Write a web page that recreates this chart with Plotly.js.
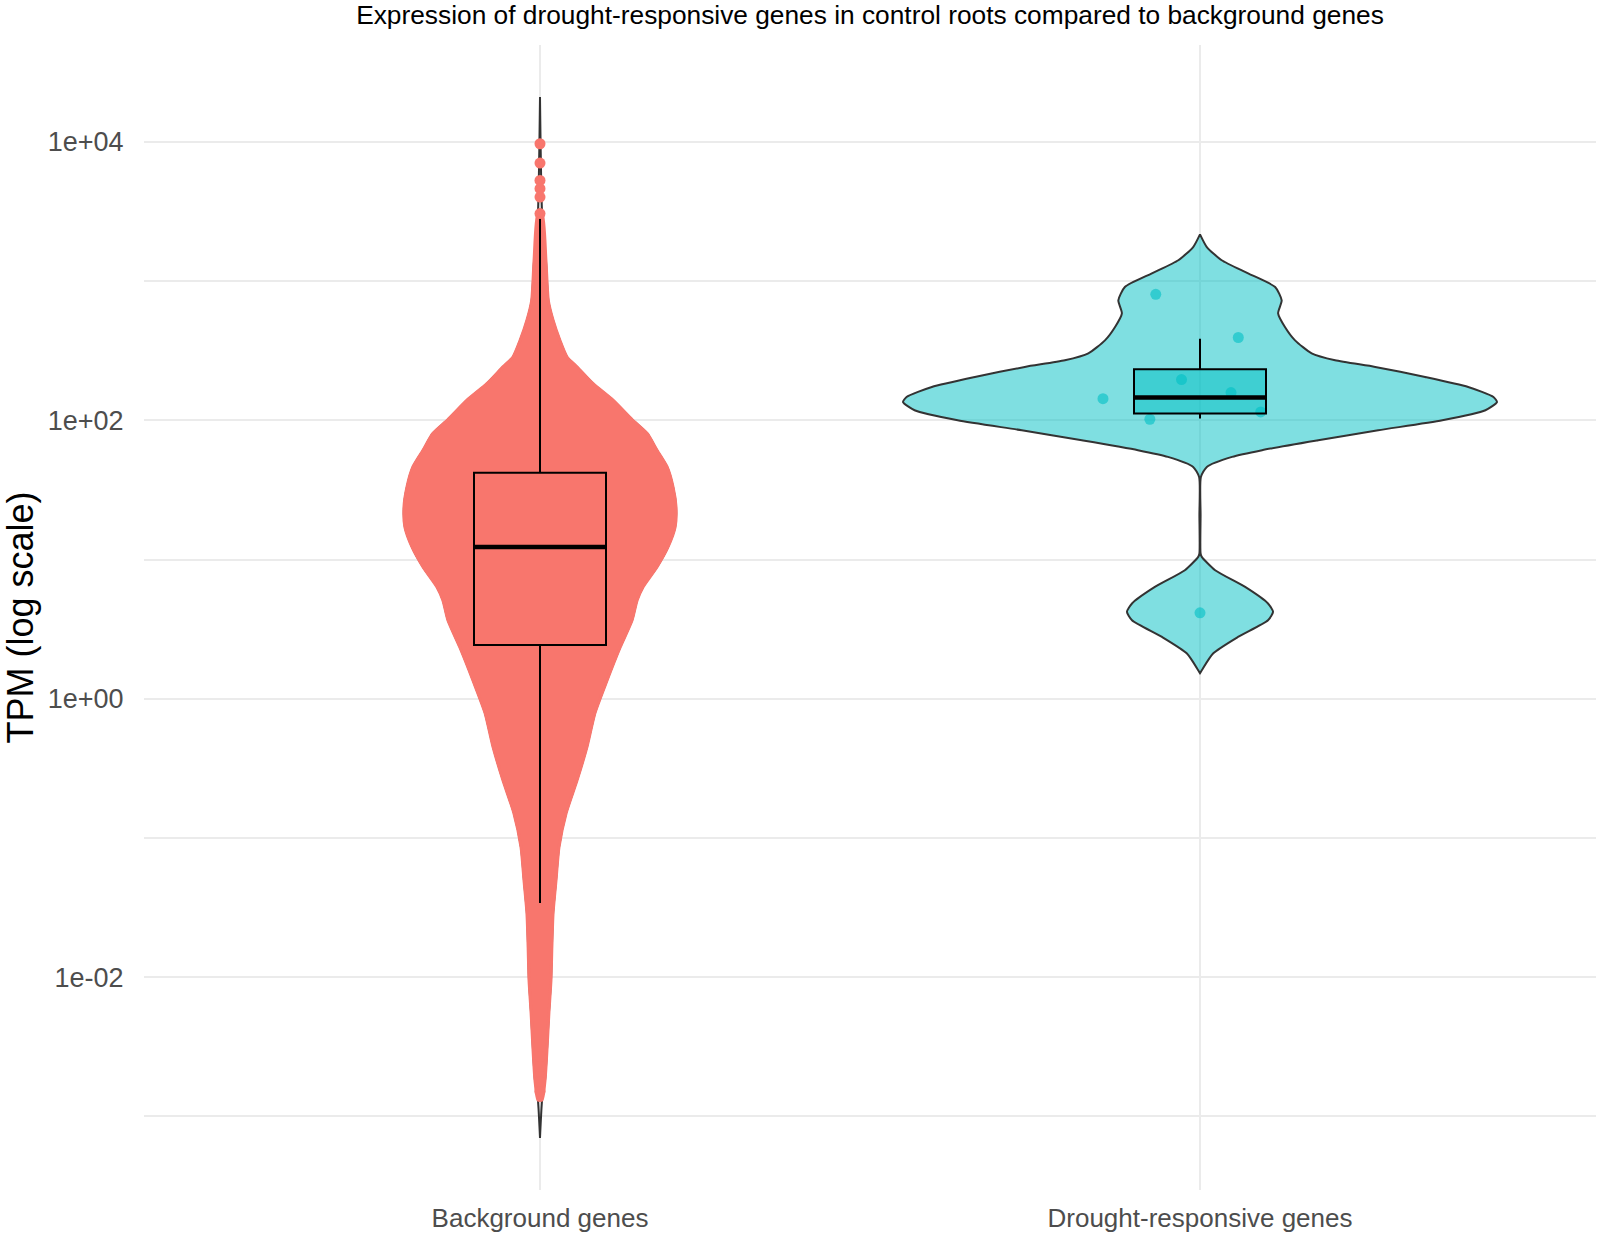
<!DOCTYPE html>
<html><head><meta charset="utf-8">
<script src="https://cdn.plot.ly/plotly-3.0.1.min.js"></script>
<style>html,body{margin:0;padding:0;background:#fff}#chart{width:1600px;height:1235px}</style>
</head><body><div id="chart"></div>
<script>
// ---------- data ----------
const categories = ['Background genes', 'Drought-responsive genes'];
const categoryPos = [1, 2];
const yTickVals = [1e-3, 1e-2, 1e-1, 1, 10, 100, 1e3, 1e4];
const yTickText = ['', '1e-02', '', '1e+00', '', '1e+02', '', '1e+04'];

// violin profiles: log10(TPM) and relative density (1 = widest violin)
const bgLog = [4.321, 3.486, 3.149, 2.861, 2.718, 2.574, 2.454, 2.383, 2.263, 2.144, 2.005, 1.905, 1.785, 1.665, 1.521, 1.377, 1.234, 1.090, 0.947, 0.803, 0.708, 0.564, 0.370, 0.133, -0.103, -0.347, -0.584, -0.821, -1.065, -1.302, -1.539, -1.783, -2.020, -2.257, -2.501, -2.738, -2.882, -3.154];
const bgDensity = [0, 0.007, 0.020, 0.028, 0.044, 0.067, 0.091, 0.125, 0.179, 0.246, 0.310, 0.361, 0.394, 0.428, 0.448, 0.458, 0.455, 0.431, 0.394, 0.347, 0.327, 0.310, 0.270, 0.226, 0.185, 0.158, 0.125, 0.088, 0.064, 0.054, 0.044, 0.040, 0.037, 0.030, 0.024, 0.017, 0.007, 0];

const drLog = [3.335, 3.244, 3.149, 3.055, 2.957, 2.861, 2.768, 2.670, 2.574, 2.481, 2.431, 2.383, 2.311, 2.239, 2.167, 2.131, 2.072, 2.000, 1.928, 1.856, 1.785, 1.737, 1.665, 1.593, 1.318, 1.043, 1.019, 0.923, 0.803, 0.684, 0.624, 0.564, 0.444, 0.325, 0.205, 0.184];
const drDensity = [0, 0.023, 0.073, 0.162, 0.253, 0.275, 0.263, 0.286, 0.320, 0.376, 0.455, 0.590, 0.758, 0.903, 0.988, 1.0, 0.961, 0.816, 0.600, 0.398, 0.209, 0.108, 0.023, 0.003, 0.002, 0.002, 0.006, 0.051, 0.152, 0.229, 0.246, 0.229, 0.128, 0.044, 0.006, 0];

// box statistics (TPM), one entry per category
const boxQ1 = [2.43, 111.7];
const boxMedian = [12.3, 145.6];
const boxQ3 = [41.9, 232];
const boxLower = [0.0341, 102.8];
const boxUpper = [3006, 385];

// background-gene outliers (TPM)
const bgOutliers = [9680, 7030, 5280, 4600, 4010, 3050, 0.00269, 0.00228, 0.00178, 0.00151];

// drought-responsive genes (TPM) and their horizontal jitter (category units)
const drPoints = [802, 393, 143, 196, 158, 101.7, 114.7, 4.14];
const drJitter = [-0.067, 0.058, -0.147, -0.028, 0.047, -0.076, 0.092, 0.0];

// ---------- styling ----------
const FONT = 'Liberation Sans, Arial, Helvetica, sans-serif';
const RED = '#F8766D';
const VIOLIN_HALF = 0.45;
const BOX_HALF = 0.1;
const X_RANGE = [0.4, 2.6];
const Y_RANGE = [-3.528, 4.695];

function violinPath(center, logs, dens) {
  const xs = [], ys = [];
  for (let i = 0; i < logs.length; i++) { xs.push(center + dens[i] * VIOLIN_HALF); ys.push(Math.pow(10, logs[i])); }
  for (let i = logs.length - 1; i >= 0; i--) { xs.push(center - dens[i] * VIOLIN_HALF); ys.push(Math.pow(10, logs[i])); }
  xs.push(xs[0]); ys.push(ys[0]);
  return {x: xs, y: ys};
}

const traces = [];
// background violin: full outline (tails visible as a dark line)
const bgFull = violinPath(categoryPos[0], bgLog, bgDensity);
traces.push({type: 'scatter', mode: 'lines', x: bgFull.x, y: bgFull.y,
  line: {color: '#333333', width: 2, shape: 'spline', smoothing: 0.6}, hoverinfo: 'skip'});
// background violin body covered by the red mass of genes
const bodyIdx = bgDensity.map((d, i) => i).filter(i => bgDensity[i] > 0);
const bgBody = violinPath(categoryPos[0], bodyIdx.map(i => bgLog[i]), bodyIdx.map(i => bgDensity[i]));
traces.push({type: 'scatter', mode: 'lines', x: bgBody.x, y: bgBody.y, fill: 'toself', fillcolor: RED,
  line: {color: RED, width: 3, shape: 'spline', smoothing: 0.6}, hoverinfo: 'skip'});

// drought violin
const drV = violinPath(categoryPos[1], drLog, drDensity);
traces.push({type: 'scatter', mode: 'lines', x: drV.x, y: drV.y, fill: 'toself', fillcolor: 'rgba(0,191,196,0.5)',
  line: {color: '#333333', width: 2, shape: 'spline', smoothing: 0.6}, hoverinfo: 'skip'});

// drought points (under the box)
traces.push({type: 'scatter', mode: 'markers', x: drPoints.map((v, i) => categoryPos[1] + drJitter[i]), y: drPoints,
  marker: {color: 'rgba(0,191,196,0.6)', size: 11}, hoverinfo: 'skip'});

// boxes on an overlaying subplot so they sit above the violins
const boxFill = [RED, 'rgba(0,191,196,0.5)'];
for (let k = 0; k < 2; k++) {
  traces.push({type: 'box', xaxis: 'x2', yaxis: 'y2', x: [categoryPos[k]], q1: [boxQ1[k]], median: [boxMedian[k]], q3: [boxQ3[k]],
    lowerfence: [boxLower[k]], upperfence: [boxUpper[k]], width: 2 * BOX_HALF, whiskerwidth: 0,
    boxpoints: false, fillcolor: boxFill[k], line: {color: '#000000', width: 2}, hoverinfo: 'skip'});
  traces.push({type: 'scatter', mode: 'lines', xaxis: 'x2', yaxis: 'y2',
    x: [categoryPos[k] - BOX_HALF, categoryPos[k] + BOX_HALF],
    y: [boxMedian[k], boxMedian[k]], line: {color: '#000000', width: 4.5}, hoverinfo: 'skip'});
}

// background outliers
traces.push({type: 'scatter', mode: 'markers', xaxis: 'x2', yaxis: 'y2', x: bgOutliers.map(() => categoryPos[0]), y: bgOutliers,
  marker: {color: RED, size: 11}, hoverinfo: 'skip'});

const layout = {
  width: 1600, height: 1235,
  margin: {l: 144, r: 4, t: 45, b: 45},
  paper_bgcolor: '#ffffff', plot_bgcolor: '#ffffff',
  showlegend: false,
  font: {family: FONT},
  title: {text: 'Expression of drought-responsive genes in control roots compared to background genes',
    font: {family: FONT, size: 26.3, color: '#000000'}, x: 0.5, xref: 'paper', xanchor: 'center',
    y: 0.9955, yref: 'container', yanchor: 'top'},
  xaxis: {range: X_RANGE, tickvals: categoryPos, ticktext: categories, showgrid: true,
    gridcolor: '#EBEBEB', gridwidth: 2, zeroline: false, showline: false,
    ticks: 'outside', ticklen: 5, tickcolor: 'rgba(0,0,0,0)',
    tickfont: {family: FONT, size: 26, color: '#4D4D4D'}},
  yaxis: {type: 'log', range: Y_RANGE, tickvals: yTickVals, ticktext: yTickText,
    showgrid: true, gridcolor: '#EBEBEB', gridwidth: 2, zeroline: false, showline: false,
    ticks: 'outside', ticklen: 14, tickcolor: 'rgba(0,0,0,0)',
    tickfont: {family: FONT, size: 27, color: '#4D4D4D'},
    title: {text: 'TPM (log scale)', font: {family: FONT, size: 36, color: '#000000'}, standoff: 8}},
  xaxis2: {overlaying: 'x', range: X_RANGE, visible: false, showgrid: false, zeroline: false},
  yaxis2: {overlaying: 'y', type: 'log', range: Y_RANGE, visible: false, showgrid: false, zeroline: false}
};

Plotly.newPlot('chart', traces, layout, {staticPlot: true, displayModeBar: false});
</script>
</body></html>
